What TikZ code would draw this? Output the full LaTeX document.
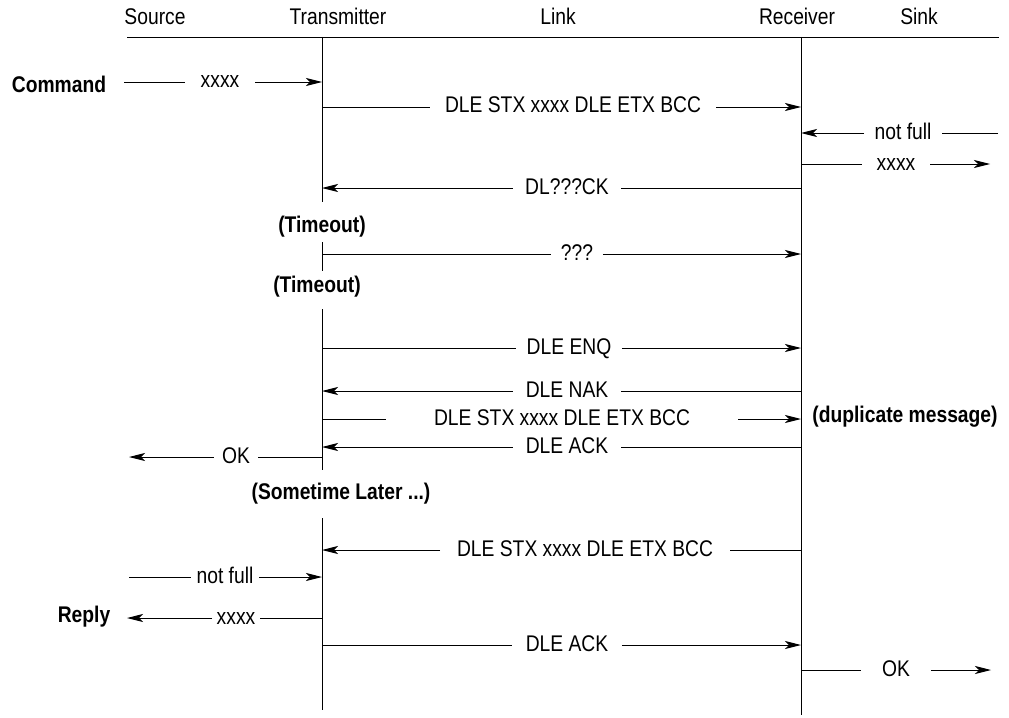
\documentclass[tikz,border=0pt]{standalone}
\usepackage{fontspec}
\setmainfont[FakeStretch=0.85]{Liberation Sans}
\usetikzlibrary{arrows.meta}
\tikzset{ > = {Stealth[length = 12pt, width = 6pt, inset = 3pt]} }

\begin{document}
\begin{tikzpicture}
  [
    x = 0.75pt, y = -0.75pt,
    every node/.style = { font = \fontsize{17}{20}\selectfont, inner sep = 0pt,
                          text height = 9pt, text depth = 0pt },
    note/.style = { font = \fontsize{17}{20}\selectfont\bfseries },
    gap/.style = { minimum width = #1*0.75pt },
    every path/.style = { line width = 0.7pt }
  ]
    \useasboundingbox (0,0) rectangle (1009,717);

    % heads and lifelines
    \node (src) at (155,19) {Source};
    \node (trm) at (338,19) {Transmitter};
    \node (lnk) at (558,19) {Link};
    \node (rcv) at (797,19) {Receiver};
    \node (snk) at (919,19) {Sink};
    \coordinate (h0) at (127,37);
    \coordinate (h1) at (999,37);
    \draw (h0) -- (h1);

    \coordinate (t0) at (322,37);
    \coordinate (t1) at (322,202);
    \coordinate (t2) at (322,242);
    \coordinate (t3) at (322,271);
    \coordinate (t4) at (322,309);
    \coordinate (t5) at (322,470);
    \coordinate (t6) at (322,518);
    \coordinate (t7) at (322,710);
    \draw (t0) -- (t1) (t2) -- (t3) (t4) -- (t5) (t6) -- (t7);
    \coordinate (r0) at (801,37);
    \coordinate (r7) at (801,715);
    \draw (r0) -- (r7);

    % notes
    \node (cmd) [note] at (59,86) {Command};
    \node (to1) [note] at (322,226.5) {(Timeout)};
    \node (to2) [note] at (317,286.5) {(Timeout)};
    \node (dup) [note] at (905,416.5) {(duplicate message)};
    \node (lat) [note] at (341,493) {(Sometime Later ...)};
    \node (rpl) [note] at (84,616) {Reply};

    % messages
    \coordinate (s1) at (124,82);
    \node (m1) [gap=70] at (220,82) {xxxx};
    \draw (s1) -- (m1.west);
    \draw [->] (m1.east) -- (m1.east -| t0);

    \node (m2) [gap=286] at (573,107) {DLE STX xxxx DLE ETX BCC};
    \draw (m2.west -| t0) -- (m2.west);
    \draw [->] (m2.east) -- (m2.east -| r0);

    \coordinate (k3) at (998,133);
    \node (m3) [gap=77] at (903,133) {not full};
    \draw (k3) -- (m3.east);
    \draw [->] (m3.west) -- (m3.west -| r0);

    \coordinate (k4) at (990,164);
    \node (m4) [gap=68] at (896,164) {xxxx};
    \draw (m4.west -| r0) -- (m4.west);
    \draw [->] (m4.east) -- (k4);

    \node (m5) [gap=108] at (567,188) {DL???CK};
    \draw (m5.east -| r0) -- (m5.east);
    \draw [->] (m5.west) -- (m5.west -| t0);

    \node (m6) [gap=51] at (577,254) {???};
    \draw (m6.west -| t0) -- (m6.west);
    \draw [->] (m6.east) -- (m6.east -| r0);

    \node (m7) [gap=105] at (569,348) {DLE ENQ};
    \draw (m7.west -| t0) -- (m7.west);
    \draw [->] (m7.east) -- (m7.east -| r0);

    \node (m8) [gap=108] at (567,391) {DLE NAK};
    \draw (m8.east -| r0) -- (m8.east);
    \draw [->] (m8.west) -- (m8.west -| t0);

    \node (m9) [gap=352] at (562,419) {DLE STX xxxx DLE ETX BCC};
    \draw (m9.west -| t0) -- (m9.west);
    \draw [->] (m9.east) -- (m9.east -| r0);

    \node (m10) [gap=108] at (567,447) {DLE ACK};
    \draw (m10.east -| r0) -- (m10.east);
    \draw [->] (m10.west) -- (m10.west -| t0);

    \coordinate (s11) at (129,457);
    \node (m11) [gap=44] at (236,457) {OK};
    \draw (m11.east -| t0) -- (m11.east);
    \draw [->] (m11.west) -- (s11);

    \node (m12) [gap=289] at (585,550) {DLE STX xxxx DLE ETX BCC};
    \draw (m12.east -| r0) -- (m12.east);
    \draw [->] (m12.west) -- (m12.west -| t0);

    \coordinate (s13) at (129,577);
    \node (m13) [gap=68] at (225,577) {not full};
    \draw (s13) -- (m13.west);
    \draw [->] (m13.east) -- (m13.east -| t0);

    \coordinate (s14) at (127,618);
    \node (m14) [gap=47] at (236,618) {xxxx};
    \draw (m14.east -| t0) -- (m14.east);
    \draw [->] (m14.west) -- (s14);

    \node (m15) [gap=109] at (567,645) {DLE ACK};
    \draw (m15.west -| t0) -- (m15.west);
    \draw [->] (m15.east) -- (m15.east -| r0);

    \coordinate (k16) at (991,670);
    \node (m16) [gap=69] at (896,670) {OK};
    \draw (m16.west -| r0) -- (m16.west);
    \draw [->] (m16.east) -- (k16);
  \end{tikzpicture}
\end{document}
